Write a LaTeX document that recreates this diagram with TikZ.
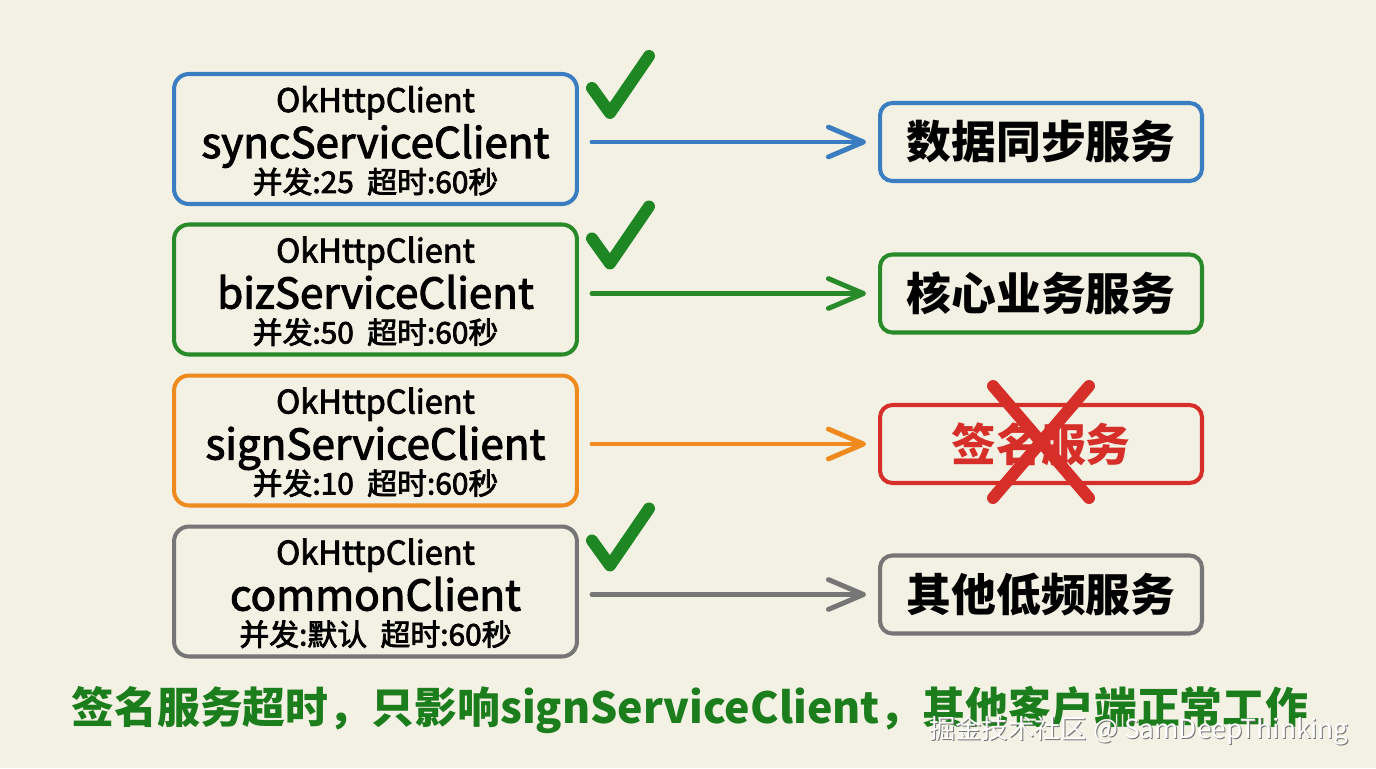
\documentclass[tikz,border=0pt]{standalone}
\usepackage{fontspec}
\setmainfont{Noto Sans CJK SC}
\newfontfamily\mediumfont[FakeBold=2.5]{Noto Sans CJK SC}
\usepackage{xcolor}
\usetikzlibrary{arrows.meta,calc,positioning}

\definecolor{paper}{RGB}{243,241,228}
\definecolor{syncblue}{RGB}{58,125,193}
\definecolor{bizgreen}{RGB}{40,138,40}
\definecolor{signorange}{RGB}{238,138,30}
\definecolor{commongray}{RGB}{118,118,118}
\definecolor{failred}{RGB}{214,46,40}
\definecolor{okgreen}{RGB}{30,135,35}
\definecolor{notegreen}{RGB}{28,125,28}

\begin{document}
\begin{tikzpicture}[x=0.02cm,y=-0.02cm,
	client/.style={draw=#1,line width=2.3pt,rounded corners=8.5pt,minimum width=8.06cm,minimum height=2.6cm},
	service/.style={draw=#1,line width=2.3pt,rounded corners=7pt,minimum width=6.44cm,minimum height=1.56cm,font=\bfseries\fontsize{25.5}{26}\selectfont},
	link/.style={draw=#1,line width=2.8pt,line cap=round,shorten <=13*0.02cm,shorten >=12*0.02cm,-{Straight Barb[length=20pt,width=17pt,line cap=round,line join=round]}},
	okmark/.style={draw=okgreen,line width=6.8pt,line cap=round,line join=round}]
	\useasboundingbox[fill=paper] (0,0) rectangle (1376,768);

	% clients, services and links
	\foreach \n/\y/\c/\name/\conc/\sy/\sc/\tc/\srv in {
		1/139/syncblue/syncServiceClient/25/142/syncblue/black/数据同步服务,
		2/289.5/bizgreen/bizServiceClient/50/293.5/bizgreen/black/核心业务服务,
		3/440.5/signorange/signServiceClient/10/444/failred/failred/签名服务,
		4/591.5/commongray/commonClient/默认/594.5/commongray/black/其他低频服务}{
		\node[client=\c] (c\n) at (375.5,\y) {};
		\node[anchor=base,font=\mediumfont\fontsize{18.5}{18}\selectfont] (c\n-type) at ([yshift=0.54cm]c\n.center) {OkHttpClient};
		\node[anchor=base,font=\mediumfont\fontsize{24}{24}\selectfont] (c\n-name) at ([yshift=-0.38cm]c\n.center) {\name};
		\node[anchor=base,font=\mediumfont\fontsize{17}{17}\selectfont] (c\n-conf) at ([yshift=-1.08cm]c\n.center) {并发:\conc\hspace{0.45em}超时:60秒};
		\node[service=\sc,text=\tc] (s\n) at (1041,\sy) {\srv};
		\draw[link=\c] (c\n.east |- s\n.west) -- (s\n.west);
	}

	% check marks
	\foreach \n in {1,2,4}
		\draw[okmark] ([shift={(13,16)}]c\n.north east) -- ++(18,25) -- ++(39,-57);

	% failed service
	\draw[draw=failred,line width=6.8pt,line cap=round] ([shift={(-48,-58)}]s3.center) -- ([shift={(48,54)}]s3.center);
	\draw[draw=failred,line width=6.8pt,line cap=round] ([shift={(48,-58)}]s3.center) -- ([shift={(-48,54)}]s3.center);

	\node[font=\bfseries\fontsize{24.4}{24}\selectfont,text=notegreen] (note) at (690,710) {签名服务超时，只影响signServiceClient，其他客户端正常工作};
	\node[font=\fontsize{15}{15}\selectfont,text=black!55,anchor=east] (mark-shadow) at (1356,732) {掘金技术社区 @ SamDeepThinking};
	\node[font=\fontsize{15}{15}\selectfont,text=white,anchor=east] (mark) at (1355,731) {掘金技术社区 @ SamDeepThinking};
\end{tikzpicture}
\end{document}
